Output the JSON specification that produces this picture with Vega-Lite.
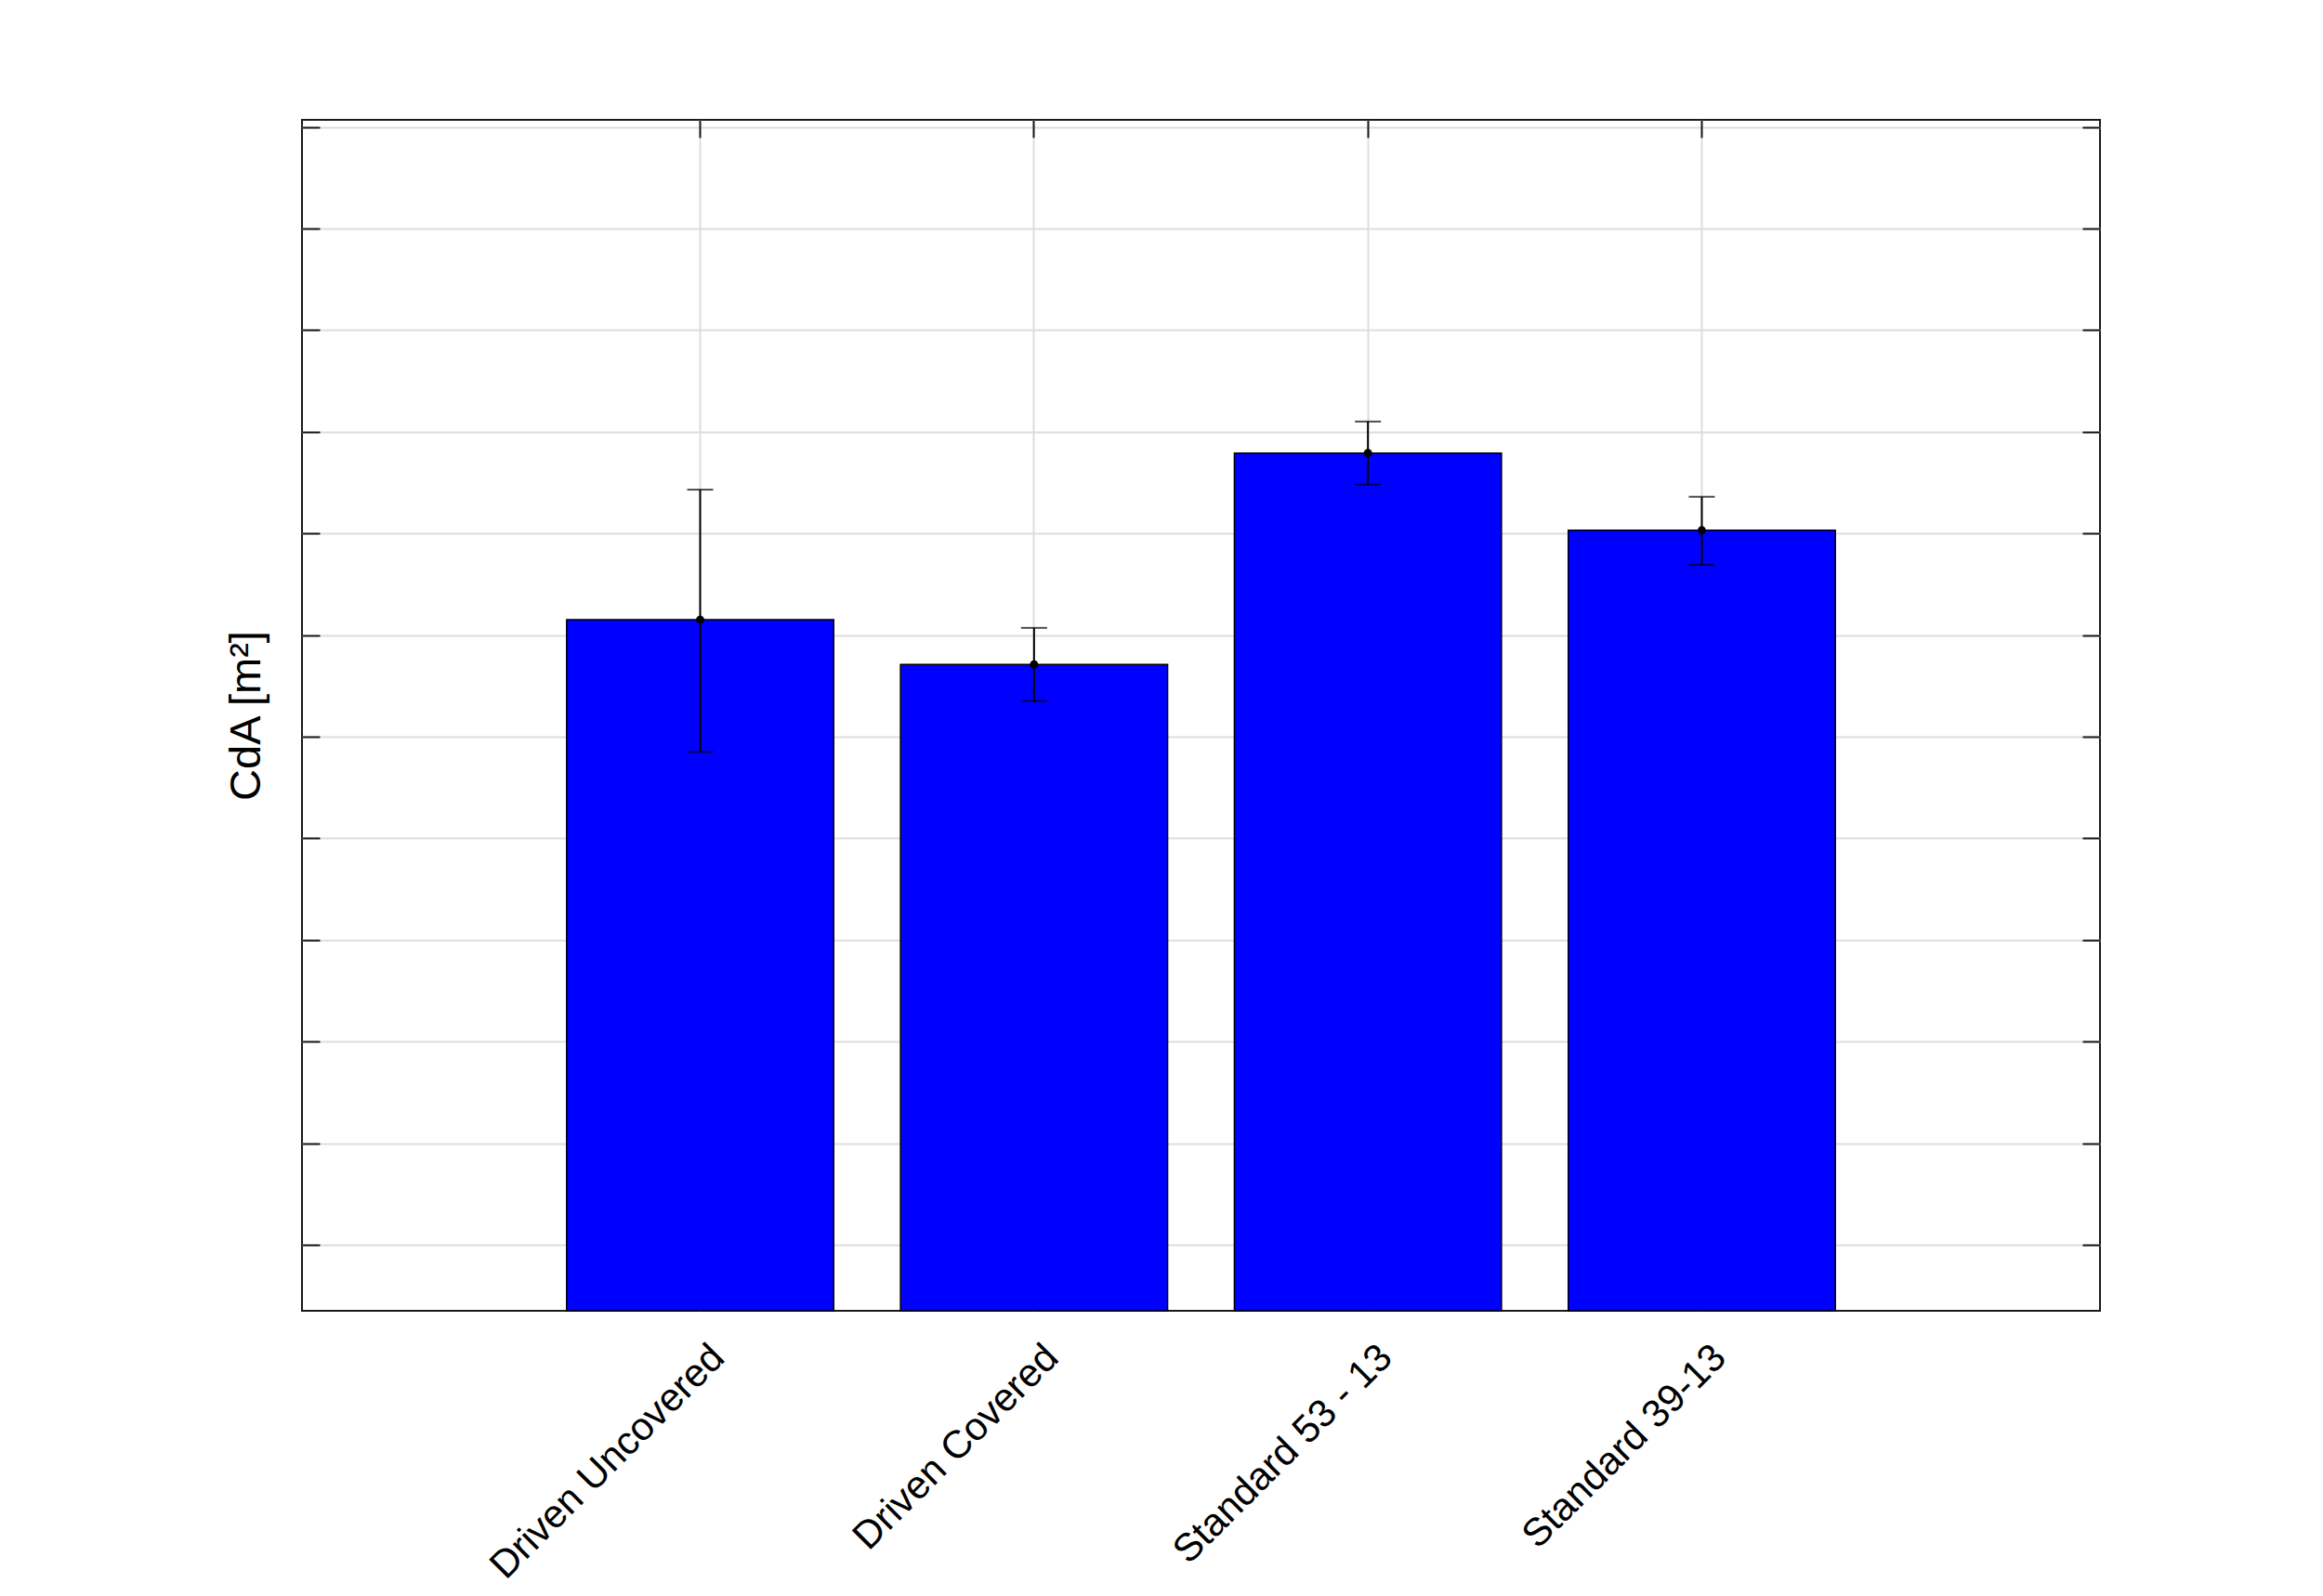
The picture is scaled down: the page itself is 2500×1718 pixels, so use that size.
{
  "$schema": "https://vega.github.io/schema/vega-lite/v6.json",
  "autosize": {"type": "none"},
  "padding": {"left": 325, "top": 129, "right": 240, "bottom": 307},
  "width": 1935,
  "height": 1282,
  "background": "white",
  "config": {
    "view": {"stroke": "#1a1a1a", "strokeWidth": 2},
    "font": "Liberation Sans"
  },
  "data": {
    "values": [
      {"config": "Driven Uncovered", "cda": 0.2615, "low": 0.2485, "high": 0.2743},
      {"config": "Driven Covered", "cda": 0.2571, "low": 0.2535, "high": 0.2607},
      {"config": "Standard 53 - 13", "cda": 0.2779, "low": 0.2748, "high": 0.2810},
      {"config": "Standard 39-13", "cda": 0.2703, "low": 0.2669, "high": 0.2736}
    ]
  },
  "encoding": {
    "x": {
      "field": "config",
      "type": "nominal",
      "sort": null,
      "scale": {"paddingInner": 0.2, "paddingOuter": 0.7926}
    }
  },
  "layer": [
    {
      "mark": {"type": "bar", "color": "#0000ff", "stroke": "#000000", "strokeWidth": 1.5},
      "encoding": {
        "x": {
          "field": "config",
          "type": "nominal",
          "sort": null,
          "axis": {
            "title": null,
            "bandPosition": 0.5,
            "domain": false,
            "grid": true,
            "gridColor": "#dedede",
            "gridWidth": 2,
            "tickSize": -19,
            "tickWidth": 2,
            "tickColor": "#1a1a1a",
            "labelAngle": -45,
            "labelAlign": "right",
            "labelBaseline": "top",
            "labelFontSize": 42,
            "labelColor": "#000000",
            "labelLimit": 0,
            "labelPadding": 48,
            "labelOffset": 5
          }
        },
        "y": {
          "field": "cda",
          "type": "quantitative",
          "scale": {"domain": [0.193506, 0.310686], "zero": false, "nice": false},
          "axis": {
            "values": [0.20, 0.21, 0.22, 0.23, 0.24, 0.25, 0.26, 0.27, 0.28, 0.29, 0.30, 0.31],
            "labels": false,
            "domain": false,
            "grid": true,
            "gridColor": "#dedede",
            "gridWidth": 2,
            "tickSize": -19,
            "tickWidth": 2,
            "tickColor": "#1a1a1a",
            "title": "CdA [m²]",
            "titleFont": "Liberation Sans",
            "titleFontSize": 47,
            "titleFontWeight": "normal",
            "titleColor": "#000000",
            "titlePadding": 35
          }
        },
        "y2": {"datum": 0.193506}
      }
    },
    {
      "mark": {"type": "rule", "color": "#000000", "strokeWidth": 2},
      "encoding": {
        "x": {"field": "config", "type": "nominal", "sort": null, "axis": null},
        "y": {"field": "low", "type": "quantitative", "axis": null},
        "y2": {"field": "high"}
      }
    },
    {
      "mark": {"type": "tick", "color": "#000000", "size": 28, "thickness": 2},
      "encoding": {
        "x": {"field": "config", "type": "nominal", "sort": null, "axis": null},
        "y": {"field": "low", "type": "quantitative", "axis": null}
      }
    },
    {
      "mark": {"type": "tick", "color": "#000000", "size": 28, "thickness": 2},
      "encoding": {
        "x": {"field": "config", "type": "nominal", "sort": null, "axis": null},
        "y": {"field": "high", "type": "quantitative", "axis": null}
      }
    },
    {
      "mark": {"type": "point", "filled": true, "color": "#000000", "size": 80, "opacity": 1},
      "encoding": {
        "x": {
          "field": "config",
          "type": "nominal",
          "sort": null,
          "axis": {
            "orient": "top",
            "title": null,
            "bandPosition": 0.5,
            "domain": false,
            "grid": false,
            "labels": false,
            "tickSize": -19,
            "tickWidth": 2,
            "tickColor": "#1a1a1a"
          }
        },
        "y": {
          "field": "cda",
          "type": "quantitative",
          "axis": {
            "orient": "right",
            "values": [0.20, 0.21, 0.22, 0.23, 0.24, 0.25, 0.26, 0.27, 0.28, 0.29, 0.30, 0.31],
            "title": null,
            "domain": false,
            "grid": false,
            "labels": false,
            "tickSize": -19,
            "tickWidth": 2,
            "tickColor": "#1a1a1a"
          }
        }
      }
    }
  ],
  "resolve": {"axis": {"x": "independent", "y": "independent"}}
}
